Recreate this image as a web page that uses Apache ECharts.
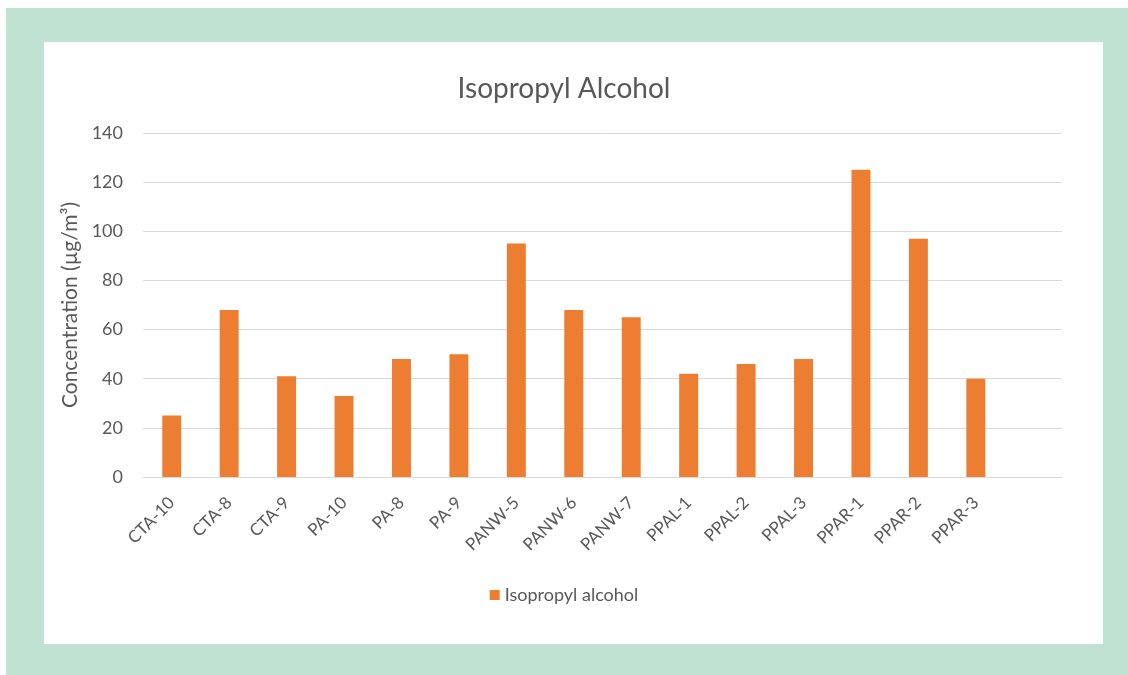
<!DOCTYPE html>
<html>
<head>
<meta charset="utf-8">
<script src="https://cdn.jsdelivr.net/npm/echarts@6/dist/echarts.min.js"></script>
<style>
html,body{margin:0;padding:0;width:1128px;height:675px;background:#fff;overflow:hidden;}
#frame{position:absolute;left:6px;top:8px;right:0;bottom:0;background:#c0e2d3;}
#panel{position:absolute;left:44px;top:42px;width:1059px;height:602px;background:#fff;}
#chart{position:absolute;left:0;top:0;width:1128px;height:675px;}
</style>
</head>
<body>
<div id="frame"></div>
<div id="panel"></div>
<div id="chart"></div>
<script>
const categories = ['CTA-10','CTA-8','CTA-9','PA-10','PA-8','PA-9','PANW-5','PANW-6','PANW-7','PPAL-1','PPAL-2','PPAL-3','PPAR-1','PPAR-2','PPAR-3'];
const isopropylAlcohol = [25, 68, 41, 33, 48, 50, 95, 68, 65, 42, 46, 48, 125, 97, 40];
const yTicks = {min: 0, max: 140, interval: 20};
const seriesName = 'Isopropyl alcohol';
const titleText = 'Isopropyl Alcohol';
const yAxisName = 'Concentration (µg/m³)';

const FONT = 'Lato';
const chart = echarts.init(document.getElementById('chart'), null, {renderer: 'canvas'});
chart.setOption({
  backgroundColor: 'transparent',
  animation: false,
  title: {
    text: titleText,
    left: 'center', top: 70,
    textStyle: {fontFamily: FONT, fontSize: 28, fontWeight: 'normal', color: '#595959'}
  },
  legend: {
    data: [seriesName],
    left: 'center', top: 581,
    icon: 'rect', itemWidth: 10, itemHeight: 10, itemGap: 6,
    textStyle: {fontFamily: FONT, fontSize: 18, color: '#595959'}
  },
  grid: {left: 143, top: 133, width: 919, height: 344, containLabel: false},
  xAxis: {
    type: 'category',
    data: categories.concat(['']),
    axisLine: {show: true, lineStyle: {color: '#d9d9d9', width: 1}},
    axisTick: {show: false},
    axisLabel: {rotate: 45, margin: 23, interval: 0, fontFamily: FONT, fontSize: 17, color: '#595959'}
  },
  yAxis: {
    type: 'value',
    min: yTicks.min, max: yTicks.max, interval: yTicks.interval,
    name: yAxisName, nameLocation: 'middle', nameGap: 55, nameRotate: 90,
    nameTextStyle: {fontFamily: FONT, fontSize: 21, color: '#595959'},
    axisLine: {show: false}, axisTick: {show: false},
    axisLabel: {margin: 20, fontFamily: FONT, fontSize: 18, color: '#595959'},
    splitLine: {lineStyle: {color: '#d9d9d9', width: 1}}
  },
  series: [{
    name: seriesName,
    type: 'bar',
    data: isopropylAlcohol,
    barWidth: '33%',
    itemStyle: {color: '#ED7D31'}
  }]
});
</script>
</body>
</html>
